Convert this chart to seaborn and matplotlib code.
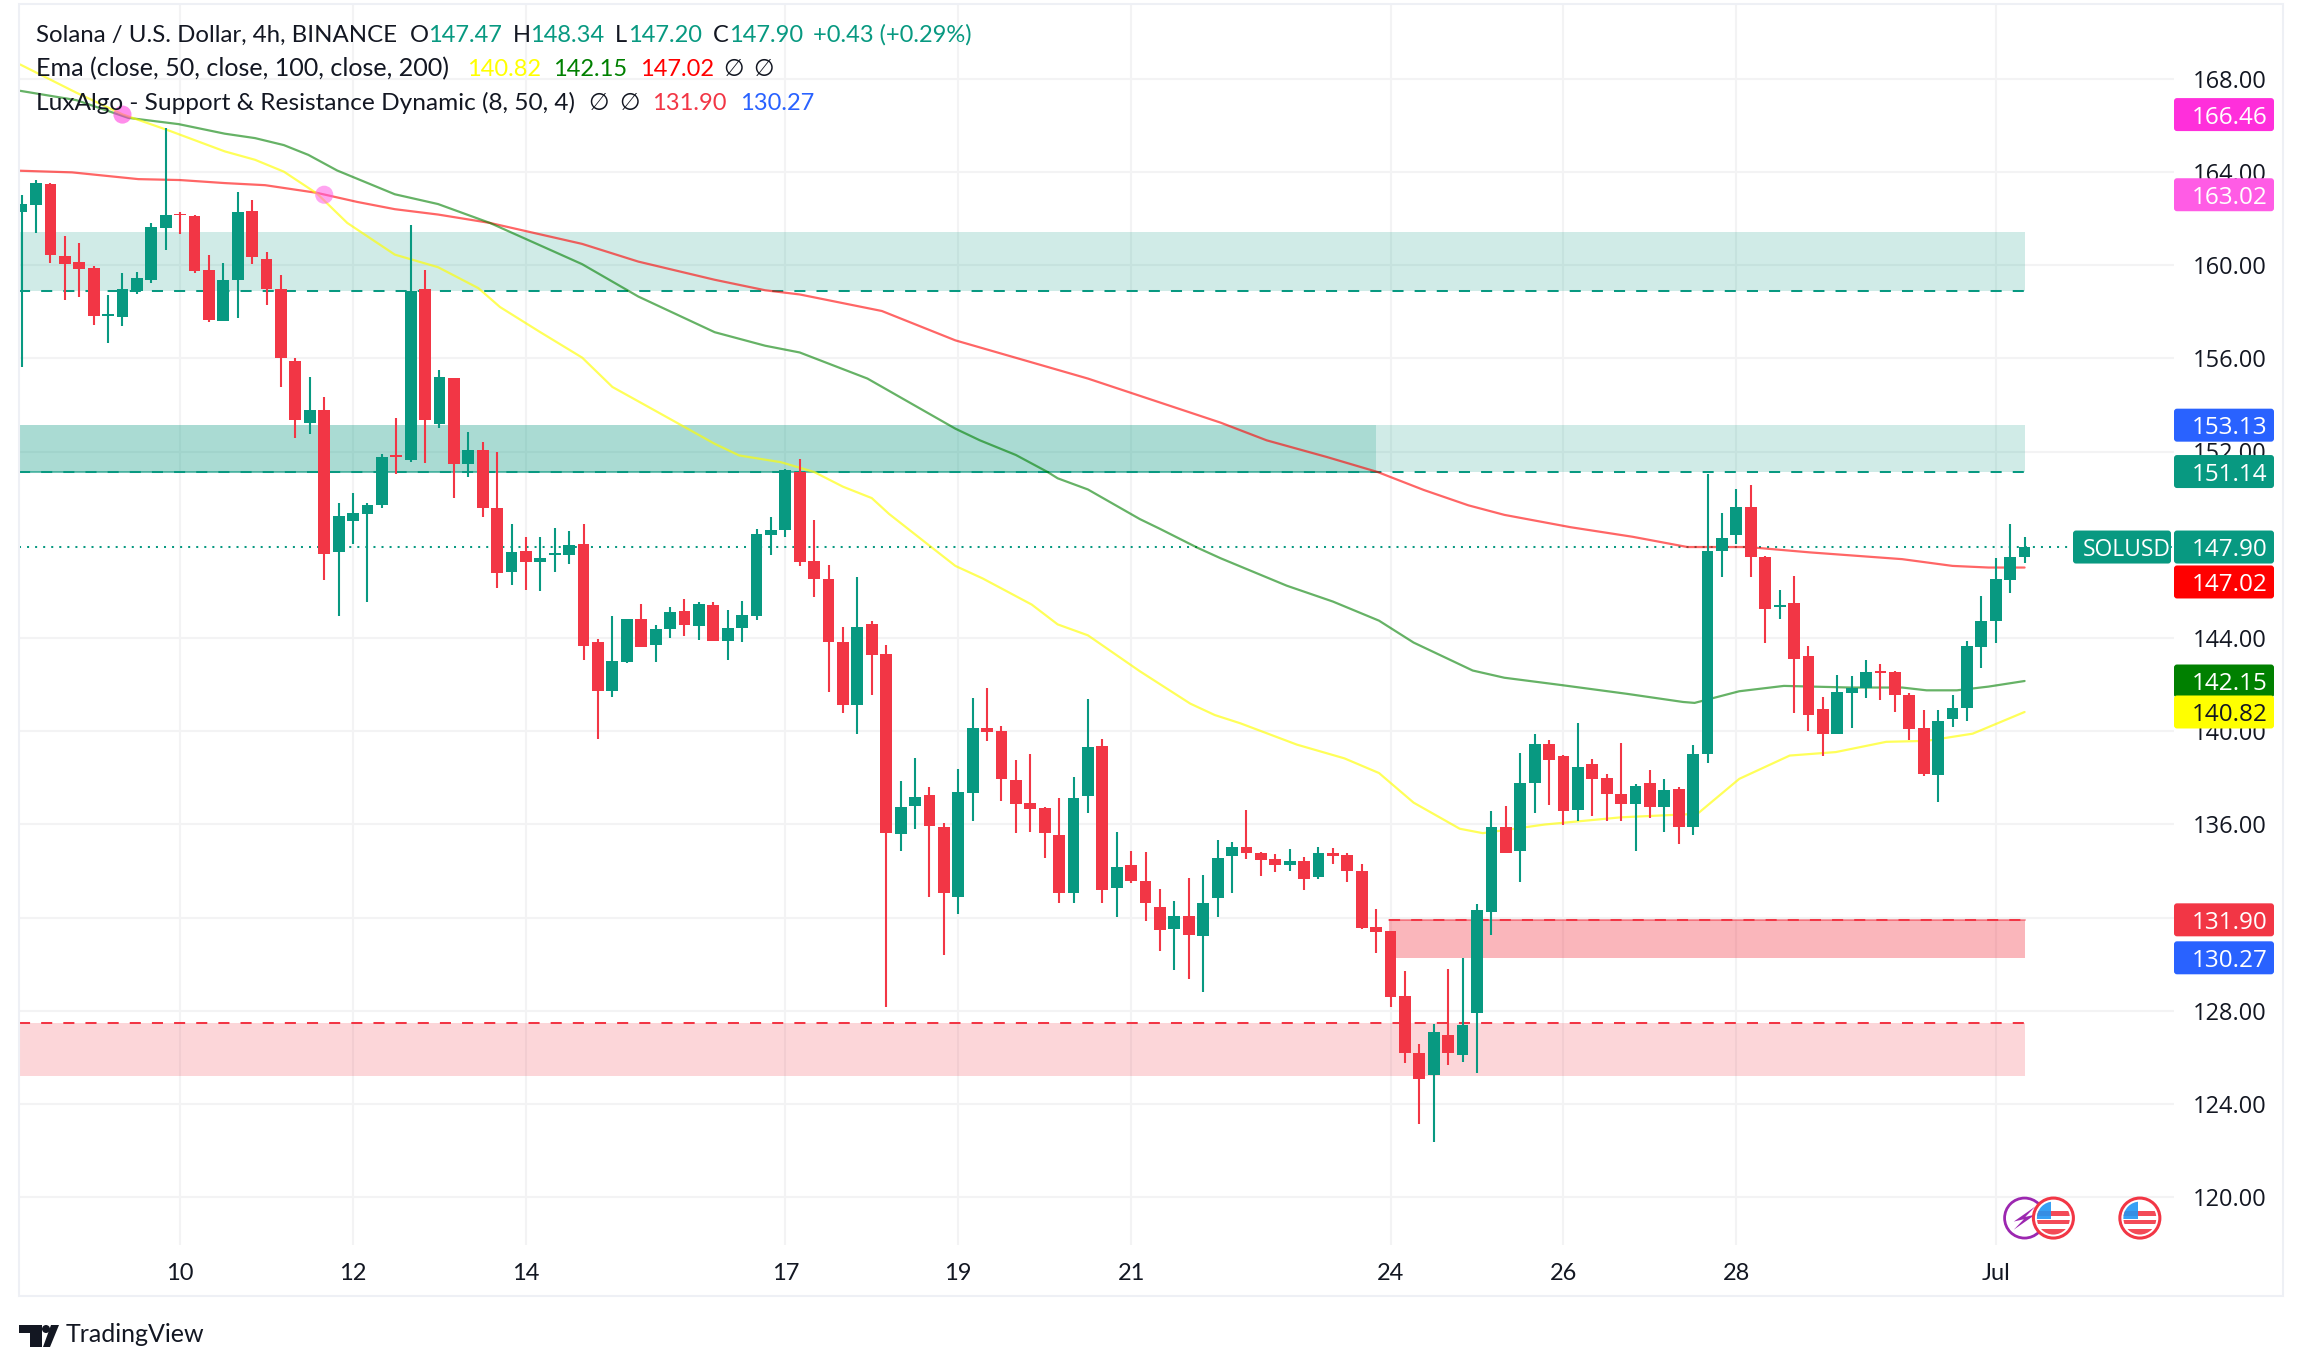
import numpy as np
import pandas as pd
import matplotlib
matplotlib.use("Agg")
import matplotlib.pyplot as plt
import seaborn as sns
from matplotlib.patches import FancyBboxPatch, Rectangle, Ellipse, Polygon
from matplotlib.transforms import IdentityTransform

W, H = 2302, 1368
GREEN, RED = "#089981", "#F23645"
INK = "#131722"

first_bar = -11
opens = [162.30,162.58,163.49,160.40,160.15,159.88,157.80,157.77,158.90,159.37,161.61,162.21,162.12,159.80,157.62,159.34,162.33,160.27,158.97,155.89,153.22,153.76,147.67,149.03,149.30,149.71,151.81,151.65,158.97,153.16,155.17,151.48,152.08,149.59,146.83,147.73,147.24,147.55,147.55,148.04,143.83,141.70,142.98,144.81,143.70,144.38,145.15,144.51,145.41,143.87,144.43,144.94,148.41,148.63,151.14,147.29,146.51,143.84,141.14,144.61,143.33,135.57,136.77,137.24,135.90,132.86,137.33,140.15,140.02,137.92,136.93,136.71,135.56,133.04,137.20,139.37,133.26,134.27,133.58,132.46,131.49,132.08,131.20,132.82,134.63,135.03,134.78,134.49,134.24,134.43,133.73,134.78,134.69,134.00,131.59,131.40,128.63,126.17,125.25,126.94,126.11,127.92,132.22,135.87,134.84,137.76,139.43,138.95,136.62,138.58,137.97,137.28,136.87,137.79,136.74,137.53,135.89,139.00,147.71,148.40,149.63,147.48,145.31,145.50,143.21,140.93,139.87,141.64,141.85,142.54,142.52,141.54,140.12,138.12,140.50,141.00,143.62,144.71,146.50,147.47]
highs = [163.02,163.65,163.54,161.25,160.96,159.97,158.70,159.64,159.70,161.81,165.87,162.26,162.15,160.44,160.08,163.13,162.78,160.55,159.59,156.00,155.20,154.35,149.77,150.22,149.80,151.88,153.45,161.72,159.79,155.49,155.17,152.84,152.39,151.97,148.87,148.32,148.34,148.72,148.58,148.88,143.96,144.94,144.81,145.45,144.55,145.32,145.66,145.54,145.54,145.19,145.58,148.67,149.17,151.25,151.67,149.05,147.15,144.47,146.60,144.71,143.71,137.87,138.86,137.62,136.06,138.39,141.43,141.87,140.20,138.77,139.03,136.75,137.15,138.05,141.36,139.68,135.68,134.87,134.83,133.24,132.72,133.71,133.84,135.34,135.25,136.62,134.83,134.74,134.96,134.61,135.03,134.99,134.78,134.29,132.37,131.40,129.71,126.59,127.42,129.80,130.26,132.59,136.55,136.80,139.08,139.89,139.60,138.99,140.33,138.79,138.14,139.47,137.74,138.35,137.93,137.62,139.39,151.05,149.36,150.40,150.57,147.52,146.06,146.65,143.67,141.46,142.39,142.35,143.04,142.87,142.56,141.64,140.89,140.89,141.56,143.85,145.79,147.44,148.90,148.34]
lows = [155.62,161.36,160.09,158.52,158.65,157.42,156.65,157.37,158.74,159.25,160.64,161.32,159.68,157.57,157.62,157.75,160.06,158.29,154.75,152.57,152.77,146.47,144.93,148.05,145.53,149.57,151.03,151.57,151.52,153.00,149.99,150.89,149.17,146.14,146.25,146.05,146.01,146.83,147.19,143.06,139.67,141.48,142.93,143.62,142.98,144.00,144.09,143.91,143.87,143.06,143.83,144.76,147.56,148.34,147.09,145.75,141.67,140.76,139.88,141.54,128.18,134.85,135.79,132.86,130.37,132.17,136.13,139.57,136.98,135.61,135.68,134.54,132.64,132.61,136.48,132.64,132.01,133.48,131.83,130.58,129.73,129.37,128.79,132.01,133.04,134.49,133.76,133.95,133.98,133.20,133.66,134.29,133.51,131.49,130.46,128.18,125.75,123.15,122.37,125.69,125.81,125.33,131.24,134.76,133.51,136.47,136.83,135.99,136.16,136.37,136.14,136.14,134.84,136.28,135.66,135.14,135.53,138.64,146.63,148.03,146.63,143.79,144.79,140.79,140.00,138.93,139.87,140.14,141.43,141.35,140.83,139.60,138.06,136.97,140.18,140.45,142.69,143.79,145.94,147.20]
closes = [162.62,163.52,160.42,160.06,159.82,157.80,157.87,158.97,159.46,161.63,162.15,162.13,159.75,157.66,159.37,162.28,160.33,158.96,156.00,153.34,153.78,147.58,149.25,149.37,149.71,151.77,151.75,158.88,153.34,155.20,151.45,152.06,149.57,146.77,147.69,147.24,147.42,147.60,148.00,143.66,141.74,143.02,144.81,143.62,144.38,145.11,144.55,145.45,143.87,144.43,144.98,148.45,148.61,151.22,147.24,146.53,143.82,141.11,144.45,143.26,135.61,136.75,137.18,135.92,133.04,137.40,140.15,139.95,137.94,136.86,136.64,135.61,133.04,137.15,139.30,133.20,134.18,133.55,132.64,131.45,132.08,131.27,132.63,134.56,135.03,134.76,134.45,134.24,134.43,133.66,134.78,134.63,133.98,131.54,131.36,128.58,126.19,125.08,127.09,126.19,127.38,132.32,135.87,134.76,137.79,139.43,138.77,136.58,138.47,137.95,137.31,136.87,137.66,136.74,137.49,135.89,139.00,147.73,148.30,149.63,147.46,145.25,145.40,143.10,140.70,139.87,141.66,141.83,142.52,142.50,141.56,140.10,138.14,140.45,140.98,143.65,144.73,146.52,147.48,147.90]

ema50_x = [-11.1,-7.2,-4,-0.8,3.1,5.2,7.2,9.5,11.6,14.9,17.9,20.7,22.2,25,27.9,30,32.1,37.1,38.8,41.7,44,46,48,49.2,52,53.8,55.7,59.1,60.9,63,66.6,70.1,71.8,73.6,77.5,80.8,83.2,85.6,88.8,90.4,94.7,100,105.3,108.2,111.7,114.9,118.4,121.2,124.4,128]
ema50_y = [168.61,167.40,166.47,165.78,164.88,164.52,164.01,163.07,161.81,160.45,159.91,159.01,158.20,157.12,156.03,154.77,154.05,152.33,151.83,151.54,151.12,150.49,150.00,149.32,147.96,147.09,146.55,145.43,144.58,144.11,142.57,141.18,140.69,140.33,139.42,138.83,138.20,136.93,135.81,135.62,135.99,136.30,136.45,137.95,138.95,139.10,139.54,139.58,139.89,140.82]
ema100_x = [-11.1,-7.2,-3.6,-0.1,3.1,5.2,7.2,8.9,10.9,14.9,17.9,21.5,27.9,31.8,37.1,40.6,43,47.7,53.8,55.5,58,60.2,60.9,63,66.6,68,70.6,72.2,76.8,80,83.2,85.6,89.7,91.9,95.8,100.4,104.3,105.1,108.2,111.3,115.9,119.5,121.2,123.3,125.5,128]
ema100_y = [167.48,167.08,166.32,166.05,165.64,165.45,165.15,164.73,164.06,163.04,162.62,161.81,160.04,158.65,157.12,156.54,156.25,155.13,152.98,152.48,151.85,151.12,150.85,150.37,149.10,148.68,147.87,147.42,146.24,145.56,144.74,143.80,142.60,142.29,141.98,141.60,141.25,141.21,141.71,141.94,141.87,141.87,141.75,141.75,141.91,142.15]
ema200_x = [-11.1,-7.5,-2.9,0,3.1,5.9,9.5,12.3,14.9,17.9,21.5,27.9,31.8,37.1,40.6,43,48.7,53.8,63,72.2,75.4,79.6,83.1,86.3,89.4,91.9,96.5,100.8,104.6,108.8,113.1,119.5,123,125.5,128]
ema200_y = [164.05,163.98,163.69,163.65,163.52,163.43,163.10,162.71,162.40,162.17,161.81,160.91,160.15,159.37,158.92,158.74,158.03,156.77,155.13,153.24,152.48,151.76,151.12,150.35,149.69,149.28,148.75,148.34,147.90,147.90,147.67,147.38,147.09,147.02,147.02]

cross_x = [-4, 10]
cross_y = [166.46, 163.02]
day_ticks = [0,12,24,42,54,66,84,96,108,126]
day_labels = ["10","12","14","17","19","21","24","26","28","Jul"]
price_ticks = [120,124,128,132,136,140,144,152,156,160,164,168]
last_price = 147.90
support_top, support_bot = [127.49, 131.90], [125.18, 130.27]
resist_top, resist_bot = [161.40, 153.13], [158.87, 151.14]
tag_values = [166.46,163.02,153.13,151.14,146.40,147.90,142.15,140.82,131.90,130.27]
tag_labels = ["166.46","163.02","153.13","151.14","147.02","147.90","142.15","140.82","131.90","130.27"]
tag_colors = ["#FF2FDB","#FF5CE5","#2962FF",GREEN,"#FF0000",GREEN,"#008000","#FFFF00",RED,"#2962FF"]
tag_text = ["white"]*7 + [INK] + ["white"]*2
event_x = [128,130,136]
event_kind = ["bolt","flag","flag"]

sns.set_theme(style="white")
plt.rcParams["font.family"] = ["Lato", "DejaVu Sans"]
fig = plt.figure(figsize=(W/100, H/100), dpi=100, facecolor="white")
L, R, T, B = 19, 2174, 5, 1245
ax = fig.add_axes([L/W, 1-B/H, (R-L)/W, (B-T)/H])
ax.set_xlim((L-180.1)/14.41, (R-180.1)/14.41)
ax.set_ylim(168-(B-78.7)/23.3, 168+(78.7-T)/23.3)
for s in ax.spines.values():
    s.set_visible(False)
ax.set_axisbelow(True)
ax.grid(True, color="#F3F3F4", lw=1.45)
ax.set_yticks(price_ticks)
ax.set_yticklabels([f"{p:.2f}" for p in price_ticks])
ax.set_xticks(day_ticks)
ax.set_xticklabels(day_labels)
ax.yaxis.tick_right()
ax.tick_params(axis="y", length=0, pad=13.7, labelsize=17, labelcolor=INK, labelfontfamily="Open Sans")
ax.tick_params(axis="x", length=0, pad=13, labelsize=17, labelcolor=INK)

idx = np.arange(first_bar, first_bar + len(opens))
right_end = 128.0
left_end = ax.get_xlim()[0]
split = 83.0

# zones
ax.fill_between([left_end, right_end], resist_bot[0], resist_top[0], color=GREEN, alpha=0.19, lw=0)
ax.fill_between([left_end, right_end], resist_bot[1], resist_top[1], color=GREEN, alpha=0.19, lw=0)
ax.fill_between([left_end, split], resist_bot[1], resist_top[1], color=GREEN, alpha=0.19, lw=0)
ax.fill_between([left_end, right_end], support_bot[0], support_top[0], color=RED, alpha=0.2, lw=0)
ax.fill_between([83.9, right_end], support_bot[1], support_top[1], color=RED, alpha=0.36, lw=0)
dash = (0, (5.5, 5.5))
for v in [resist_bot[0], resist_bot[1]]:
    ax.plot([left_end, right_end], [v, v], color=GREEN, lw=1.45, ls=dash)
ax.plot([left_end, split], [resist_bot[1]]*2, color=GREEN, lw=1.45, alpha=0.6)
ax.plot([left_end, right_end], [support_top[0]]*2, color=RED, lw=1.45, ls=dash)
ax.plot([83.9, right_end], [support_top[1]]*2, color=RED, lw=1.45, alpha=0.5)
ax.plot([83.9, right_end], [support_top[1]]*2, color=RED, lw=1.45, ls=dash)
ax.plot(ax.get_xlim(), [last_price]*2, color=GREEN, lw=1.45, ls=(0, (1, 3)), zorder=3)

# moving averages
for xs, ys, c, a in [(ema200_x, ema200_y, "#FF0000", 0.6), (ema100_x, ema100_y, "#008000", 0.6), (ema50_x, ema50_y, "#FFFF00", 0.65)]:
    sns.lineplot(data=pd.DataFrame({"bar": xs, "ema": ys}), x="bar", y="ema", color=c, alpha=a, lw=1.6, ax=ax, estimator=None, sort=False, zorder=3)
ax.set_xlabel("")
ax.set_ylabel("")

# candles
o, h, l, c = map(np.array, (opens, highs, lows, closes))
cols = np.where(c >= o, GREEN, RED)
ax.vlines(idx, l, h, colors=cols, lw=1.5, zorder=4)
ax.bar(idx, np.maximum(np.abs(c-o), 0.08), bottom=np.minimum(o, c), width=0.82, color=cols, lw=0, zorder=5)

# crossing dots
ax.scatter(cross_x, cross_y, s=170, c=["#FF2FDB", "#FF5CE5"], alpha=0.55, lw=0, zorder=6)

# event icons
bx, by = 14.41, 23.3
ey = 119.1
for ex, kind in zip(event_x, event_kind):
    rx, ry = 20/bx, 20/by
    if kind == "bolt":
        ax.add_patch(Ellipse((ex, ey), 2*rx, 2*ry, fc="white", ec="#9C27B0", lw=2, zorder=7))
        ax.add_patch(Polygon([(ex+0.75, ey+0.5), (ex-0.75, ey-0.15), (ex-0.05, ey-0.05), (ex-0.75, ey-0.5), (ex+0.75, ey+0.15), (ex+0.05, ey+0.05)],
                             fc="#9C27B0", ec="none", zorder=7))
    else:
        ax.add_patch(Ellipse((ex, ey), 2*rx, 2*ry, fc="white", ec=RED, lw=2.2, zorder=8))
        clip = Ellipse((ex, ey), 1.65*rx, 1.65*ry, transform=ax.transData)
        for (x0, y0, w, h_, col) in [(-rx, 0.1, 2*rx, 0.2, RED), (-rx, -0.75, 2*rx, 0.3, RED), (-rx, -0.25, 2*rx, 0.18, RED), (-rx, -0.05, rx*0.9, 0.9, "#2196F3")]:
            pr = Rectangle((ex+x0, ey+y0), w, h_, fc=col, ec="none", zorder=9, alpha=0.9)
            ax.add_patch(pr)
            pr.set_clip_path(clip)

# price tags
fig.canvas.draw()
def tag(x0, x1, v, col, txt, tc, tx, size=17.5):
    yp = ax.transData.transform((0, v))[1]
    fig.add_artist(FancyBboxPatch((x0, yp-16.5), x1-x0, 33, boxstyle="round,pad=0,rounding_size=3",
                                  fc=col, ec="none", transform=IdentityTransform(), zorder=5))
    fig.text(tx/W, yp/H, txt, color=tc, fontsize=size, fontfamily="Open Sans", va="center_baseline", ha="left", zorder=6, fontweight="medium")
for v, t, col, tc in zip(tag_values, tag_labels, tag_colors, tag_text):
    tag(2174, 2274, v, col, t, tc, 2192)
tag(2073, 2171, last_price, GREEN, "SOLUSD", "white", 2083, 16.5)

# header
def px_text(x, y, s, color=INK, size=17):
    fig.text(x/W, 1-y/H, s, color=color, fontsize=size, va="center", ha="left", zorder=7)
px_text(36, 35, "Solana / U.S. Dollar, 4h, BINANCE", INK, 17.3)
for x, s, col in [(410,"O",INK),(428,"147.47",GREEN),(513,"H",INK),(530,"148.34",GREEN),
                  (615,"L",INK),(628,"147.20",GREEN),(713,"C",INK),(729,"147.90",GREEN),(813,"+0.43 (+0.29%)",GREEN)]:
    px_text(x, 35, s, col)
px_text(36, 69, "Ema (close, 50, close, 100, close, 200)", INK, 18.1)
for x, s, col in [(467,"140.82","#FFFF00"),(553,"142.15","#008000"),(640,"147.02","#FF0000"),(723,"\u2205",INK),(753,"\u2205",INK)]:
    px_text(x, 69, s, col)
px_text(36, 103, "LuxAlgo - Support & Resistance Dynamic (8, 50, 4)", INK, 17.6)
for x, s, col in [(588,"\u2205",INK),(619,"\u2205",INK),(652,"131.90",RED),(740,"130.27","#2962FF")]:
    px_text(x, 103, s, col)

# outer frame and logo
fig.add_artist(Rectangle((19/W, 1-1296/H), (2283-19)/W, (1296-4)/H, transform=fig.transFigure, fc="none", ec="#EEF0F5", lw=1.5, zorder=4))
def P(pts, col=INK):
    fig.add_artist(Polygon([(x/W, 1-y/H) for x, y in pts], closed=True, transform=fig.transFigure, fc=col, ec="none", zorder=7))
P([(19,1325),(42,1325),(42,1347),(30,1347),(30,1333),(19,1333)])
P([(59,1325),(51,1325),(43,1347),(50,1347)])
fig.add_artist(Ellipse((46/W, 1-1329/H), 8/W, 8/H, transform=fig.transFigure, fc=INK, ec="none", zorder=7))
px_text(66, 1335, "TradingView", INK, 18)

fig.savefig("out.png", dpi=100, facecolor="white")
